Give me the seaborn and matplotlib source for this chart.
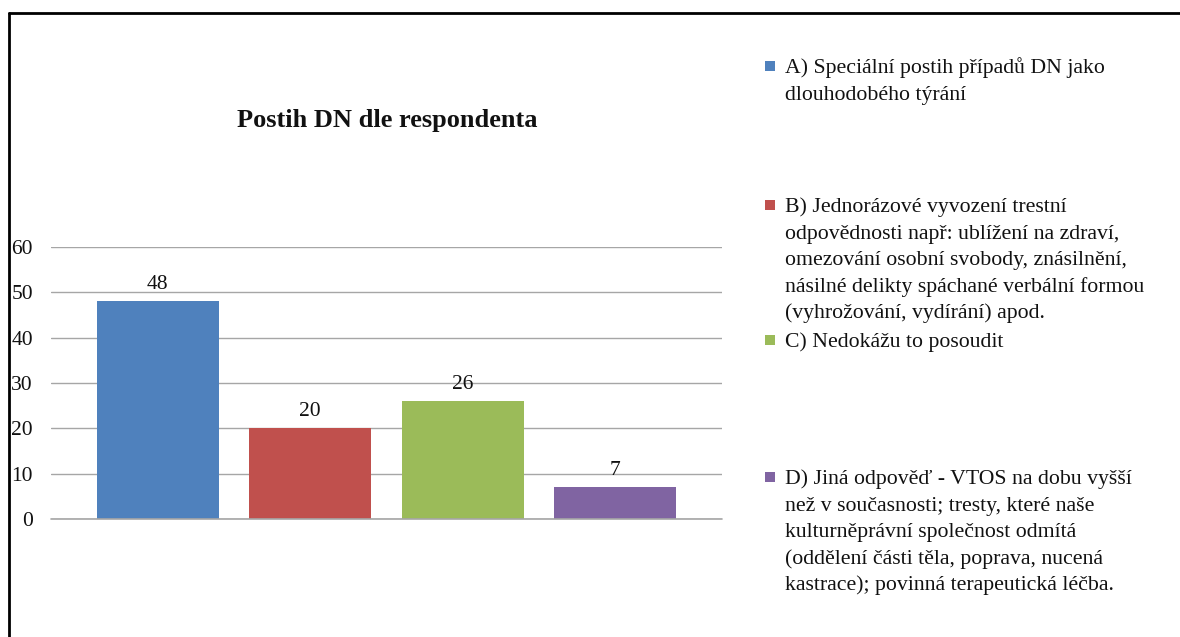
import pandas as pd
import matplotlib.pyplot as plt
import seaborn as sns
from matplotlib.lines import Line2D
from matplotlib.patches import Rectangle

# data
categories = ['A', 'B', 'C', 'D']
counts = [48, 20, 26, 7]
legend_labels = [
    'A) Speciální postih případů DN jako\ndlouhodobého týrání',
    'B) Jednorázové vyvození trestní\nodpovědnosti např: ublížení na zdraví,\nomezování osobní svobody, znásilnění,\nnásilné delikty spáchané verbální formou\n(vyhrožování, vydírání) apod.',
    'C) Nedokážu to posoudit',
    'D) Jiná odpověď - VTOS na dobu vyšší\nnež v současnosti; tresty, které naše\nkulturněprávní společnost odmítá\n(oddělení části těla, poprava, nucená\nkastrace); povinná terapeutická léčba.',
]
colors = ['#4F81BD', '#C0504D', '#9BBB59', '#8064A2']

df = pd.DataFrame({'kategorie': categories, 'pocet': counts})

sns.set_style('white')
plt.rcParams['font.family'] = ['Liberation Serif', 'DejaVu Serif']

fig = plt.figure(figsize=(11.8, 6.37), dpi=100)
ax = fig.add_axes([0.0432, 0.1852, 0.5687, 0.427])

sns.barplot(data=df, x='kategorie', y='pocet', hue='kategorie', palette=colors,
            width=0.8, legend=False, ax=ax, saturation=1, linewidth=0)

ax.set_ylim(0, 60)
ax.set_xlim(-0.70, 3.70)
ax.set_yticks(range(0, 61, 10))
ax.yaxis.grid(True, color='#A6A6A6', linewidth=1)
ax.axhline(0, color='#A6A6A6', linewidth=1.2, clip_on=False, zorder=3)
ax.set_axisbelow(True)
ax.set_xticks([])
ax.set_xlabel('')
ax.set_ylabel('')
for s in ax.spines.values():
    s.set_visible(False)
ax.tick_params(axis='y', length=0, pad=13, labelsize=15.5, labelcolor='#111111')

# data labels
for bar in ax.patches:
    h = bar.get_height()
    ax.text(bar.get_x() + bar.get_width() / 2, h + 1.6, int(h),
            ha='center', va='bottom', fontsize=15.5, color='#111111')

# title
fig.text(387 / 1180, 1 - 121 / 637, 'Postih DN dle respondenta',
         ha='center', va='center', fontsize=19, fontweight='bold', color='#111111')

# legend drawn by hand (Excel-style spacing), one line at a time
entry_base = [73, 212, 347, 484]
line_step = 26.6
for lab, col, yy in zip(legend_labels, colors, entry_base):
    fig.add_artist(Rectangle((765 / 1180, 1 - (yy - 2) / 637), 10 / 1180, 10 / 637,
                             transform=fig.transFigure, facecolor=col, edgecolor='none'))
    for i, line in enumerate(lab.split('\n')):
        fig.text(785 / 1180, 1 - (yy + i * line_step) / 637, line, ha='left', va='baseline',
                 fontsize=15.7, color='#111111')

# chart border (top and left visible)
fig.add_artist(Line2D([9 / 1180, 1], [1 - 13 / 637, 1 - 13 / 637], color='black', linewidth=2,
                      transform=fig.transFigure))
fig.add_artist(Line2D([9 / 1180, 9 / 1180], [0, 1 - 13 / 637], color='black', linewidth=2,
                      transform=fig.transFigure))

plt.savefig('out.png', dpi=100)
